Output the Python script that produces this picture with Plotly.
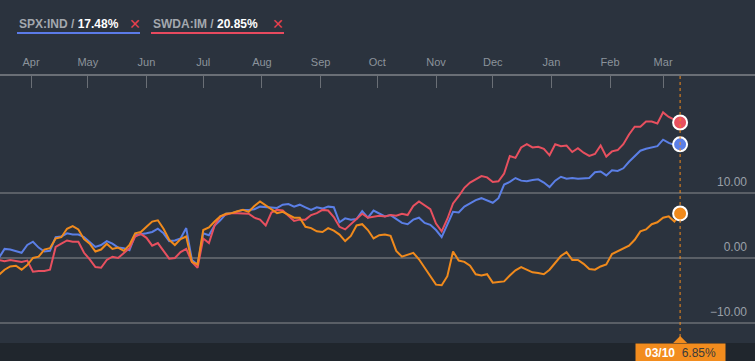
import pandas as pd
import plotly.graph_objects as go

# ---- data (percent change, sampled every 3 days ending 2017-03-10) ----
end_date = "2017-03-10"
n_points = 121
dates = pd.date_range(end=end_date, periods=n_points, freq="3D")

spx = [0.0, 1.4, 1.3, 1.1, 0.8, 2.0, 2.5, 1.6, 1.0, 1.1,
       3.2, 3.3, 3.8, 3.6, 3.6, 3.2, 2.5, 1.7, 2.0, 2.6,
       2.2, 1.6, 1.5, 1.2, 3.5, 3.6, 3.8, 4.0, 4.5, 3.8,
       2.6, 2.7, 3.0, 4.6, -0.3, -1.0, 3.8, 3.5, 5.0, 5.8,
       6.8, 6.9, 7.2, 7.4, 7.4, 7.5, 7.9, 7.8, 7.8, 7.7,
       8.2, 8.3, 7.9, 8.2, 7.8, 7.4, 7.8, 7.6, 7.9, 7.8,
       5.5, 6.1, 5.9, 6.0, 7.2, 6.2, 7.3, 6.9, 6.4, 6.6,
       6.0, 5.4, 5.2, 5.9, 6.2, 5.4, 5.1, 4.3, 3.2, 5.2,
       7.1, 7.0, 7.9, 8.4, 8.9, 9.2, 8.9, 8.5, 9.2, 11.3,
       11.7, 12.3, 11.9, 11.8, 12.0, 12.1, 11.6, 10.9, 11.9, 12.5,
       12.2, 12.3, 12.2, 12.2, 12.3, 13.2, 13.3, 12.7, 13.5, 13.4,
       13.8, 14.8, 15.7, 16.5, 16.8, 17.0, 17.2, 18.2, 17.7, 17.4,
       17.48]

swda = [-0.3, -0.5, -0.3, -0.5, -0.6, -0.4, -2.1, -2.0, -2.0, -1.8,
        1.7, 2.2, 2.7, 2.5, 2.5, 0.8, -0.2, -1.4, -1.5, -0.3,
        0.2, 0.0, 0.7, 1.5, 3.3, 3.7, 3.1, 1.9, 2.3, 1.1,
        -0.1, 0.0, 0.9, 1.4, -0.6, -1.5, 3.0, 2.3, 5.0, 6.4,
        6.7, 6.9, 6.9, 6.9, 6.8, 6.2, 5.9, 5.0, 7.0, 7.4,
        7.3, 6.5, 5.7, 5.9, 5.9, 6.6, 6.9, 7.4, 7.3, 6.3,
        4.8, 4.4, 5.2, 5.9, 6.8, 6.2, 6.4, 6.5, 6.4, 6.6,
        6.5, 6.8, 6.6, 8.0, 8.7, 8.1, 7.5, 5.3, 4.1, 6.0,
        8.4, 9.5, 10.8, 11.6, 12.1, 12.6, 12.4, 11.7, 11.8, 13.0,
        15.7, 15.4, 17.0, 17.5, 17.0, 17.1, 16.8, 15.8, 17.5, 17.2,
        17.3, 16.3, 16.9, 16.2, 15.7, 16.0, 17.3, 15.6, 16.4, 16.6,
        17.5, 19.0, 20.2, 20.2, 21.0, 21.0, 20.7, 22.4, 21.7, 21.3,
        20.85]

third = [-2.6, -1.8, -1.3, -1.2, -1.8, -1.1, 0.0, 0.2, 1.3, 1.5,
         3.0, 3.2, 4.5, 4.9, 4.4, 2.9, 2.2, 1.0, 1.3, 2.2,
         1.4, 1.6, 1.1, 2.0, 3.8, 4.0, 4.8, 5.6, 5.8, 4.5,
         2.8, 2.0, 2.9, 3.3, -0.6, -1.0, 4.3, 4.7, 5.6, 6.4,
         6.8, 6.9, 7.2, 7.4, 7.1, 8.0, 8.7, 8.1, 7.4, 6.9,
         7.1, 6.6, 6.2, 6.2, 4.8, 4.6, 4.1, 4.0, 4.6, 4.2,
         3.6, 2.6, 3.4, 5.0, 5.2, 4.3, 3.0, 3.5, 3.6, 3.4,
         1.1, 0.2, 0.5, 0.8, -0.2, -1.5, -3.0, -4.1, -4.2, -2.8,
         1.0, -0.4, -0.6, -1.2, -2.5, -2.7, -2.5, -3.8, -3.7, -3.6,
         -2.7, -1.9, -1.4, -1.8, -2.2, -2.3, -2.5, -1.8, -0.7, 0.3,
         0.9, -0.3, -0.3, -0.9, -1.7, -1.8, -1.3, -1.0, 0.6, 1.0,
         1.4, 1.9, 2.8, 4.1, 4.4, 5.2, 5.5, 6.2, 6.4, 5.6,
         6.85]

month_ticks = ["2016-04-01", "2016-05-01", "2016-06-01", "2016-07-01",
               "2016-08-01", "2016-09-01", "2016-10-01", "2016-11-01",
               "2016-12-01", "2017-01-01", "2017-02-01", "2017-03-01"]
month_labels = ["Apr", "May", "Jun", "Jul", "Aug", "Sep", "Oct", "Nov",
                "Dec", "Jan", "Feb", "Mar"]
y_ticks = [-10, 0, 10]

series_names = ["SPX:IND", "SWDA:IM", "Index"]
series_colors = ["#5b7fe6", "#e8505f", "#f08a1c"]
series_values = [spx, swda, third]

BG = "#2b333e"
GRID = "#5a5f66"
FONT = "Liberation Sans, Arial, sans-serif"

fig = go.Figure()
for name, color, vals in zip(series_names, series_colors, series_values):
    fig.add_trace(go.Scatter(x=dates, y=vals, mode="lines", name=name,
                             line=dict(color=color, width=2), hoverinfo="skip"))
# end markers
for name, color, vals in zip(series_names, series_colors, series_values):
    fig.add_trace(go.Scatter(x=[dates[-1]], y=[vals[-1]], mode="markers",
                             marker=dict(color=color, size=14,
                                         line=dict(color="white", width=2)),
                             hoverinfo="skip", showlegend=False))

W, H = 755, 361
T, B = 76, 18
plot_h = H - T - B

def py(px_y):
    return (H - B - px_y) / plot_h

fig.update_layout(
    width=W, height=H,
    margin=dict(l=0, r=0, t=T, b=B),
    paper_bgcolor=BG, plot_bgcolor=BG,
    showlegend=False,
    hovermode=False,
    font=dict(family=FONT, color="#8c939c"),
    xaxis=dict(type="date", side="top",
               range=["2016-03-15 14:00", "2017-04-18 14:00"],
               tickvals=month_ticks, ticktext=month_labels,
               showgrid=False, zeroline=False,
               showline=True, linecolor="#6a6f76", linewidth=2,
               ticks="inside", ticklen=12, tickwidth=1, tickcolor="#6a6f76",
               tickfont=dict(size=11, color="#8c939c", family=FONT),
               ticklabelstandoff=4),
    yaxis=dict(range=[-13.08, 28.0], side="right",
               tickvals=y_ticks, tickformat=".2f",
               ticklabelposition="inside top",
               showgrid=True, gridcolor=GRID, gridwidth=2,
               zeroline=False, showline=False, ticks="",
               tickfont=dict(size=12, color="#9aa0a8", family=FONT),
               ticklabelstandoff=5, ticklabelshift=-3),
)

# bottom dark bar
fig.add_shape(type="rect", xref="paper", yref="paper", x0=0, x1=1,
              y0=py(H), y1=0, fillcolor="#20262d", line_width=0, layer="below")
# crosshair
fig.add_shape(type="line", xref="x", yref="paper", x0=dates[-1], x1=dates[-1],
              y0=0, y1=1, line=dict(color="#f08a1c", width=1, dash="dot"))
fig.add_shape(type="path", xref="x", yref="paper", xsizemode="pixel",
              ysizemode="pixel", xanchor=dates[-1], yanchor=0,
              path="M-7,0 L7,0 L0,7 Z", fillcolor="#f28c1e", line_width=0)
fig.add_annotation(xref="x", yref="paper", x=dates[-1], y=0, yanchor="top",
                   xanchor="center", showarrow=False,
                   text="<b>03/10</b>  <span style='color:#3a3a3a'>6.85%</span>",
                   font=dict(size=12, color="white", family=FONT),
                   bgcolor="#f28c1e", width=89, height=18, borderpad=0)

# legend-like header
legend_items = [("SPX:IND", "17.48%", "#5b7be8", 17, 140, 135),
                ("SWDA:IM", "20.85%", "#e84a5f", 151, 284, 278)]
for name, pct, color, x0, x1, xc in legend_items:
    fig.add_annotation(xref="paper", yref="paper", x=x0 / W, y=py(24),
                       xanchor="left", yanchor="middle", showarrow=False,
                       text=(f"<b><span style='color:#a3a8ae'>{name} / </span>"
                             f"<span style='color:#ffffff'>{pct}</span></b>"),
                       font=dict(size=12, family=FONT))
    fig.add_annotation(xref="paper", yref="paper", x=xc / W, y=py(24),
                       xanchor="center", yanchor="middle", showarrow=False,
                       text="✕", font=dict(size=14, color="#e8404f", family="DejaVu Sans"))
    fig.add_shape(type="line", xref="paper", yref="paper", x0=x0 / W, x1=x1 / W,
                  y0=py(33), y1=py(33), line=dict(color=color, width=2))

fig.write_html("out.html",
               config={"displayModeBar": False, "staticPlot": True},
               post_script="document.body.style.margin='0';"
                           "document.body.style.background='#2b333e';")
